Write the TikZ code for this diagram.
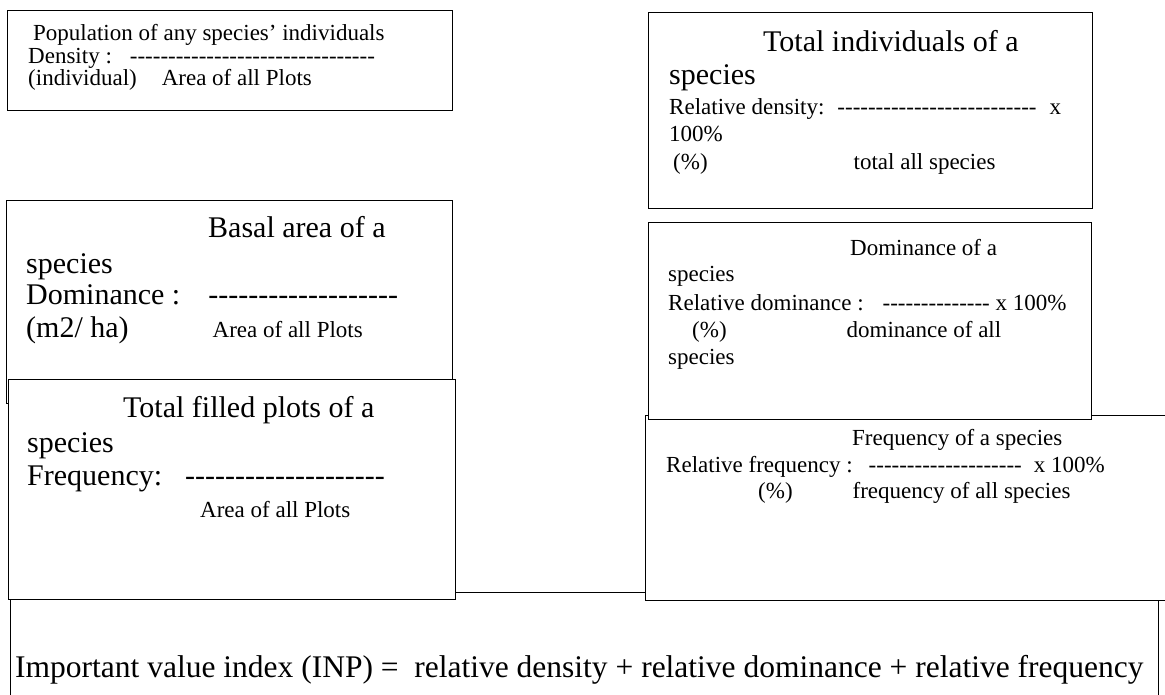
\documentclass[tikz,border=0pt]{standalone}
\usepackage{fontspec}
\setmainfont{Liberation Serif}[Ligatures=TeXOff]
\usepackage{tikz}

\newcommand{\smallfs}{\fontsize{23}{27}\selectfont}
\tikzset{
  box/.style={draw, fill=white, line width=1.1pt, inner sep=0pt, anchor=north west},
  sm/.style={anchor=base west, inner sep=0pt, font=\smallfs},
  lg/.style={anchor=base west, inner sep=0pt, font=\fontsize{30}{33}\selectfont},
}

\begin{document}
\begin{tikzpicture}[x=1pt, y=-1pt]
\useasboundingbox (0,0) rectangle (1165,695);
\clip (0,0) rectangle (1165,695);
% boxes, from back to front
\node[box, minimum width=1148pt, minimum height=130pt] (inp) at (10,592) {};
\node[box, minimum width=446pt, minimum height=203pt] (dom) at (6,200) {};
\node[box, minimum width=447pt, minimum height=220pt] (freq) at (8,379) {};
\node[box, minimum width=560pt, minimum height=185pt] (rfreq) at (645,415) {};
\node[box, minimum width=443pt, minimum height=197pt] (rdom) at (648,222) {};
\node[box, minimum width=445pt, minimum height=100pt] (dens) at (7,10) {};
\node[box, minimum width=444pt, minimum height=196pt] (rdens) at (648,12) {};
% density
\node[sm] (dens1) at (33,41) {Population of any species’ individuals};
\node[sm] (dens2) at (28,63.5) {Density :\hspace{18pt}--------------------------------};
\node[sm] (dens3) at (28,86) {(individual)\hspace{25pt}Area of all Plots};
% relative density
\node[lg] (rdens1) at (763,52) {Total individuals of a};
\node[lg] (rdens2) at (669,85) {species};
\node[sm] (rdens3) at (669,115) {Relative density:\hspace{13pt}--------------------------\hspace{13pt}x};
\node[sm] (rdens4) at (669,142) {100\%};
\node[sm] (rdens5) at (673,170) {(\%)\hspace{146pt}total all species};
% dominance
\node[lg] (dom1) at (208,238) {Basal area of a};
\node[lg] (dom2) at (26,273) {species};
\node[lg] (dom3) at (26,305) {Dominance :\hspace{28pt}-------------------};
\node[lg] (dom4) at (26,337) {(m2/ ha)\hspace{84pt}{\smallfs Area of all Plots}};
% relative dominance
\node[sm] (rdom1) at (850,255) {Dominance of a};
\node[sm] (rdom2) at (668,282) {species};
\node[sm] (rdom3) at (668,310) {Relative dominance :\hspace{19pt}-------------- x 100\%};
\node[sm] (rdom4) at (692,337) {(\%)\hspace{120pt}dominance of all};
\node[sm] (rdom5) at (668,364) {species};
% frequency
\node[lg] (freq1) at (123,417) {Total filled plots of a};
\node[lg] (freq2) at (27,452) {species};
\node[lg] (freq3) at (27,485) {Frequency:\hspace{23pt}--------------------};
\node[sm] (freq4) at (200,517) {Area of all Plots};
% relative frequency
\node[sm] (rfreq1) at (852,445) {Frequency of a species};
\node[sm] (rfreq2) at (666,472) {Relative frequency :\hspace{16pt}--------------------\hspace{12pt}x 100\%};
\node[sm] (rfreq3) at (758,498) {(\%)\hspace{60pt}frequency of all species};
% index
\node[anchor=base west, inner sep=0pt, font=\fontsize{31.5}{35}\selectfont] (inp1) at (15,677)
  {Important value index (INP) =\ \ relative density + relative dominance + relative frequency};
\end{tikzpicture}
\end{document}
